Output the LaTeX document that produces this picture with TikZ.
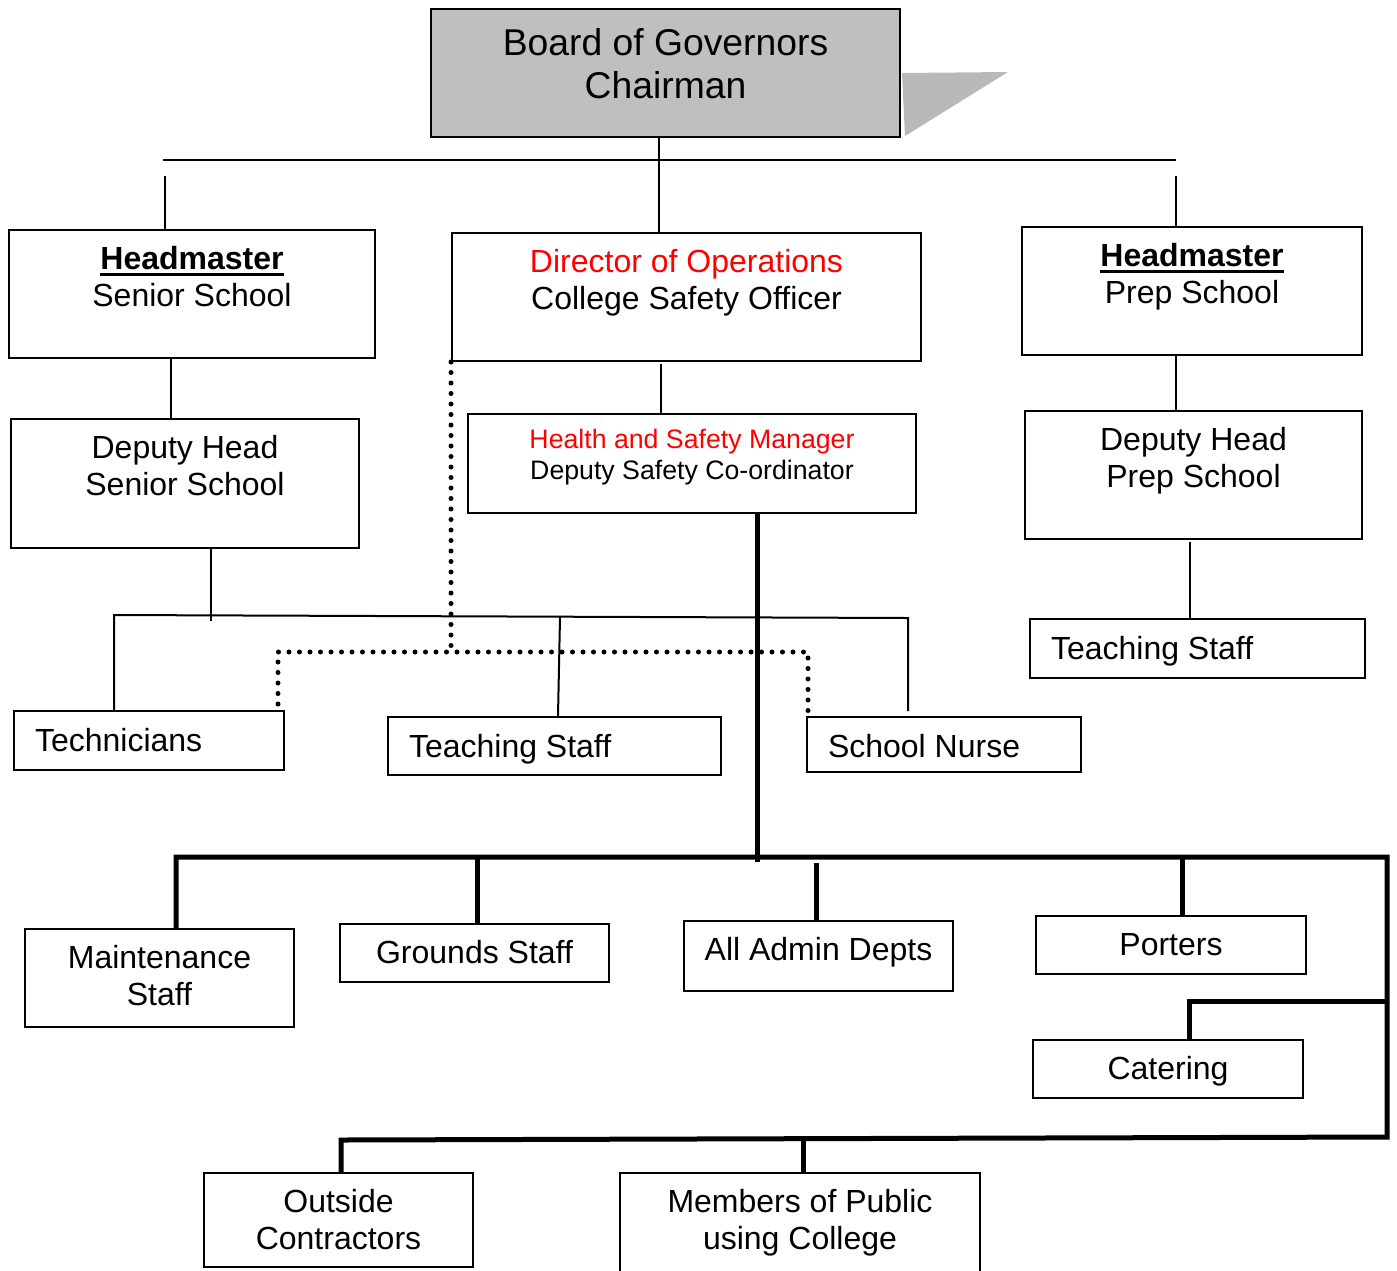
\documentclass[tikz,border=0pt]{standalone}
\usepackage{fontspec}
\setmainfont{Liberation Sans}
\usepackage{xcolor}
\usepackage{tikz}

% text held at the top of a box of fixed size
\newcommand{\boxtext}[4]{\parbox[t][#2pt][t]{#1pt}{\vspace*{#3pt}\centering\strut#4}}
\newcommand{\boxleft}[3]{\parbox[t][#2pt][t]{#1pt}{\vspace*{15pt}\hspace*{21pt}\strut#3}}
\newcommand{\ulhead}[1]{\vtop{\hbox{\bfseries #1}\kern2.5pt\hrule height 3pt}}

\begin{document}
\begin{tikzpicture}[x=1pt,y=-1pt,
		box/.style={draw,line width=2pt,fill=white,inner sep=0pt,anchor=north west,font=\fontsize{32}{37}\selectfont},
		link/.style={line width=2pt},
		heavy/.style={line width=5pt},
		dots/.style={line width=5pt,line cap=round,dash pattern=on 0pt off 10.5pt}]
	\useasboundingbox (0,0) rectangle (1397,1270);
	\clip (0,0) rectangle (1397,1270);

	\node[box,fill=gray!50,font=\fontsize{37.3}{42.5}\selectfont] (board) at (430,8) {\boxtext{469}{128}{17}{Board of Governors\\Chairman}};
	\fill[gray!55] ([xshift=1pt]board.east) -- (1008,72) -- ([xshift=4pt,yshift=2pt]board.south east) -- cycle;

	\node[box] (hmsenior) at (8,229)    {\boxtext{366}{128}{14}{\ulhead{Headmaster}\\Senior School}};
	\node[box] (dhsenior) at (10,418)   {\boxtext{348}{129}{14}{Deputy Head\\Senior School}};
	\node[box] (dirops)   at (451,232)  {\boxtext{469}{128}{14}{\textcolor{red}{Director of Operations}\\College Safety Officer}};
	\node[box,font=\fontsize{26.7}{31}\selectfont] (hsm) at (467,413) {\boxtext{448}{99}{12.5}{\textcolor{red}{Health and Safety Manager}\\Deputy Safety Co-ordinator}};
	\node[box] (hmprep)   at (1021,226) {\boxtext{340}{128}{14}{\ulhead{Headmaster}\\Prep School}};
	\node[box] (dhprep)   at (1024,410) {\boxtext{337}{128}{14}{Deputy Head\\Prep School}};
	\node[box] (tsprep)   at (1029,618) {\boxleft{335}{59}{Teaching Staff}};
	\node[box] (techs)    at (13,710)   {\boxleft{270}{59}{Technicians}};
	\node[box] (tsenior)  at (387,716)  {\boxleft{333}{58}{Teaching Staff}};
	\node[box] (nurse)    at (806,716)  {\boxleft{274}{55}{School Nurse}};
	\node[box] (maint)    at (24,928)   {\boxtext{269}{98}{14}{Maintenance\\Staff}};
	\node[box] (grounds)  at (339,923)  {\boxtext{269}{58}{14}{Grounds Staff}};
	\node[box] (admin)    at (683,920)  {\boxtext{269}{70}{14}{All Admin Depts}};
	\node[box] (porters)  at (1035,915) {\boxtext{270}{58}{14}{Porters}};
	\node[box] (catering) at (1032,1039){\boxtext{270}{58}{14}{Catering}};
	\node[box] (outside)  at (203,1172) {\boxtext{269}{94}{14}{Outside\\Contractors}};
	\node[box] (public)   at (619,1172) {\boxtext{360}{110}{14}{Members of Public\\using College}};

	% governors and heads
	\coordinate (busL) at (163,160);
	\coordinate (busR) at (1176,160);
	\draw[link] (busL) -- (busR);
	\draw[link] (659,0 |- board.south) -- (659,0 |- dirops.north);
	\draw[link] (165,176) -- (165,0 |- hmsenior.north);
	\draw[link] (1176,176) -- (1176,0 |- hmprep.north);
	\draw[link] (171,0 |- hmsenior.south) -- (171,0 |- dhsenior.north);
	\draw[link] (661,364) -- (661,0 |- hsm.north);
	\draw[link] (1176,0 |- hmprep.south) -- (1176,0 |- dhprep.north);
	\draw[link] (1190,542) -- (1190,0 |- tsprep.north);
	\draw[link] (211,0 |- dhsenior.south) -- (211,621);
	\draw[link] (114,0 |- techs.north) -- (114,615) -- (908,618) -- (908,711);
	\draw[link] (560,617) -- (558,0 |- tsenior.north);

	% safety officer
	\draw[dots] (dirops.south west) -- (451,652);
	\draw[dots] (278,704) -- (278,652) -- (808,652) -- (808,0 |- nurse.north);

	% safety manager
	\draw[heavy] (757,0 |- hsm.south) -- (757,862);
	\draw[heavy] (176,0 |- maint.north) -- (176,857) -- (1387,857) -- (1387,1137) -- (341,1140) -- (341,0 |- outside.north);
	\draw[heavy] (477,857) -- (477,0 |- grounds.north);
	\draw[heavy] (816,863) -- (816,0 |- admin.north);
	\draw[heavy] (1182,857) -- (1182,0 |- porters.north);
	\draw[heavy] (1387,1001) -- (1189,1001) -- (1189,0 |- catering.north);
	\draw[heavy] (803,1138) -- (803,0 |- public.north);
\end{tikzpicture}
\end{document}
